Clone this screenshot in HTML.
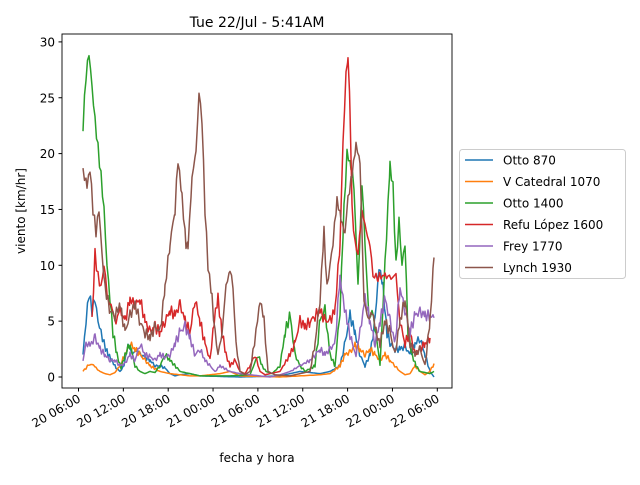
<!DOCTYPE html>
<html><head><meta charset="utf-8">
<style>
body{margin:0;background:#fff;}
svg text{font-family:"DejaVu Sans","Liberation Sans",sans-serif;fill:#000;}
</style></head>
<body>
<svg id="c" width="640" height="480" xmlns="http://www.w3.org/2000/svg">
<rect width="640" height="480" fill="#fff"/>
<text x="257" y="27" font-size="14" text-anchor="middle">Tue 22/Jul - 5:41AM</text>
<g id="series"></g>
<rect x="62" y="34" width="390" height="354" fill="none" stroke="#000" stroke-width="0.9"/>
<g id="ticks" font-size="12"></g>
<text x="257" y="462" font-size="12" text-anchor="middle">fecha y hora</text>
<text transform="translate(25,211) rotate(-90)" font-size="12" text-anchor="middle">viento [km/hr]</text>
<g id="legend" font-size="12"></g>
</svg>
<script>
const Y=v=>377-v*11.17;
const data={
"#1f77b4":[[83,2],[86,5],[89,7.5],[92,6],[95,7],[98,5],[101,4],[104,3],[108,2],[112,1.5],[116,0.8],[120,0.5],[124,1],[128,3],[132,2],[136,2.5],[140,2],[145,1.8],[150,1.5],[155,1],[160,1],[165,0.8],[170,0.3],[175,0.1],[180,0.2],[190,0.3],[200,0.1],[240,0],[280,0.1],[290,0.3],[300,0.5],[310,0.4],[320,0.3],[330,0.5],[340,1],[345,3],[350,5.5],[355,4],[360,2],[365,1],[370,2],[375,5],[379,10],[383,8],[387,4],[390,3],[395,2.5],[400,2.5],[405,2.7],[410,2],[415,3],[420,3.5],[425,2],[430,0.5],[434,0]],
"#ff7f0e":[[83,0.5],[88,1],[92,1.2],[96,0.8],[100,0.5],[105,0.3],[110,0.2],[115,0.4],[120,1],[125,2],[130,3],[135,2.5],[140,2],[145,1.5],[150,1],[160,0.5],[170,0.3],[180,0.2],[190,0.1],[200,0.1],[210,0.2],[220,0.3],[230,0.5],[240,0.1],[280,0],[320,0.2],[330,0.3],[340,1],[345,2],[350,2.2],[355,2.8],[360,2.5],[365,2],[370,2.5],[375,2],[380,1.5],[385,2],[390,1.5],[395,1],[400,0.5],[405,0.2],[410,0.3],[415,1],[420,0.5],[425,0.2],[430,0.5],[434,1.2]],
"#2ca02c":[[83,22.5],[86,27],[89,29],[92,26],[95,23],[98,20.5],[101,18],[104,15],[107,10],[110,7],[113,4],[117,2],[121,0.8],[125,2],[130,3],[135,1],[140,0.5],[145,0.3],[150,0.5],[155,0.4],[160,1],[165,2],[170,1.5],[180,0.5],[190,0.3],[200,0.1],[230,0.1],[250,0.2],[258,2],[262,1],[266,0.5],[272,0.3],[280,1],[285,4],[290,5.5],[295,2],[300,1],[305,0.5],[315,1],[320,5],[325,6],[330,2],[335,1],[340,6],[344,15],[347,20],[351,19],[354,17],[358,8],[362,17.5],[365,12],[369,5],[372,6],[376,4],[380,1],[385,10],[390,19],[393,17],[396,10],[399,14],[402,10],[405,12],[408,4],[412,2],[416,1],[420,0.5],[425,0.4],[430,0.3],[434,0.5]],
"#d62728":[[92,5],[95,11],[98,9],[101,8],[104,10],[108,7],[112,6],[116,5],[120,6],[125,5],[130,7],[135,6.5],[140,7],[145,5],[150,4],[155,4.5],[160,4],[165,5],[170,6],[175,5.5],[180,6.5],[185,5],[190,4],[195,7],[200,5],[205,3],[210,1.5],[214,5],[218,7],[222,4],[226,2],[230,1],[235,1.5],[240,0.5],[245,0.3],[250,1],[255,2],[260,0.5],[265,0.2],[270,0.3],[280,0.5],[290,2],[295,3],[300,5],[305,4.5],[310,5],[315,5.5],[320,6],[325,5],[330,5],[335,6],[340,12],[343,21],[346,27],[348,29],[350,24],[352,15],[355,12],[358,11],[362,15],[366,13],[370,12],[373,9],[378,9],[385,9],[392,9],[396,9],[400,5],[405,3],[410,4],[415,2],[420,2.5],[425,3],[430,3.5]],
"#9467bd":[[83,1.5],[86,3],[90,2.8],[95,3.5],[100,2.5],[105,2],[110,1.5],[115,1.5],[120,1],[125,1.2],[130,2],[135,1.5],[140,3],[145,2],[150,1.8],[155,1.5],[160,2],[165,1.8],[170,2],[175,3],[180,4],[185,4.5],[190,3.5],[195,2],[200,2.5],[205,1.5],[210,1],[215,0.5],[220,1],[230,0.5],[240,0.3],[250,0.2],[260,0.1],[270,0],[280,0.2],[290,0.5],[300,1],[310,1.5],[315,2],[320,2.5],[325,2],[330,2.5],[335,3],[340,9],[343,7],[347,5],[352,3],[356,2],[360,4],[365,7],[370,5],[375,3],[380,5],[385,7],[390,5],[395,3],[400,8],[405,6],[410,4],[415,5.5],[420,5.8],[425,5.5],[430,5.5],[434,5.3]],
"#8c564b":[[83,18.5],[87,17],[90,18.7],[93,15],[96,13],[99,15],[102,11],[105,8],[110,6],[115,5.5],[120,6.5],[125,4],[130,5.5],[135,6.5],[140,5],[145,4],[150,3.5],[155,4.5],[160,4],[165,8],[170,12],[175,15],[178,19.5],[182,16],[186,12],[188,11.5],[192,18],[196,20],[199,25.5],[202,23],[205,15],[208,10],[212,7],[215,4],[218,2],[222,4],[226,8],[230,9.8],[233,8],[236,3],[240,0.5],[245,0.2],[250,0.5],[256,4],[260,7],[264,5],[268,0.5],[275,0.2],[290,0.1],[300,0.3],[310,0.5],[315,3],[320,7],[324,13],[327,8],[330,10],[333,12],[337,16],[341,14],[345,13],[348,16],[352,18],[356,21],[360,19],[364,7],[368,5],[372,6],[376,4],[380,3],[385,5],[390,4],[395,2],[400,5],[405,7],[410,3],[415,2],[420,2.5],[425,1],[430,5],[434,10.7]]
};
let s='',k=0;
for(const c in data){
  const pts=data[c];let out=[];k++;
  for(let i=0;i<pts.length-1;i++){
    const [x0,v0]=pts[i],[x1,v1]=pts[i+1];
    for(let x=x0;x<x1;x+=1.5){
      const t=(x-x0)/(x1-x0);let v=v0+(v1-v0)*t;
      if(v>0.6)v+=Math.sin(x*2.3+k*7)*0.25*Math.min(v,4)/2;
      if(v<0)v=0;
      out.push(x.toFixed(1)+','+Y(v).toFixed(1));
    }
  }
  const l=pts[pts.length-1];out.push(l[0]+','+Y(l[1]).toFixed(1));
  s+=`<polyline points="${out.join(' ')}" fill="none" stroke="${c}" stroke-width="1.5" stroke-linejoin="round"/>`;
}
document.getElementById('series').innerHTML=s;
let t='';
for(let i=0;i<=6;i++){const y=Y(i*5);t+=`<line x1="58.5" x2="62" y1="${y}" y2="${y}" stroke="#000"/><text x="55" y="${y+4.5}" text-anchor="end">${i*5}</text>`;}
const xl=["20 06:00","20 12:00","20 18:00","21 00:00","21 06:00","21 12:00","21 18:00","22 00:00","22 06:00"];
for(let i=0;i<9;i++){const x=78.5+i*44.85;t+=`<line x1="${x}" x2="${x}" y1="388" y2="391.5" stroke="#000"/><text transform="translate(${x+3},${401}) rotate(-30)" text-anchor="end">${xl[i]}</text>`;}
document.getElementById('ticks').innerHTML=t;
const names=["Otto 870","V Catedral 1070","Otto 1400","Refu López 1600","Frey 1770","Lynch 1930"];
const cols=Object.keys(data);
let L=`<rect x="459.5" y="149.5" width="166" height="129" rx="3" fill="#fff" stroke="#ccc"/>`;
for(let i=0;i<6;i++){const y=160+i*21.5;L+=`<line x1="465" x2="493" y1="${y}" y2="${y}" stroke="${cols[i]}" stroke-width="1.5"/><text x="503" y="${y+4.5}">${names[i]}</text>`;}
document.getElementById('legend').innerHTML=L;
</script>
</body></html>
